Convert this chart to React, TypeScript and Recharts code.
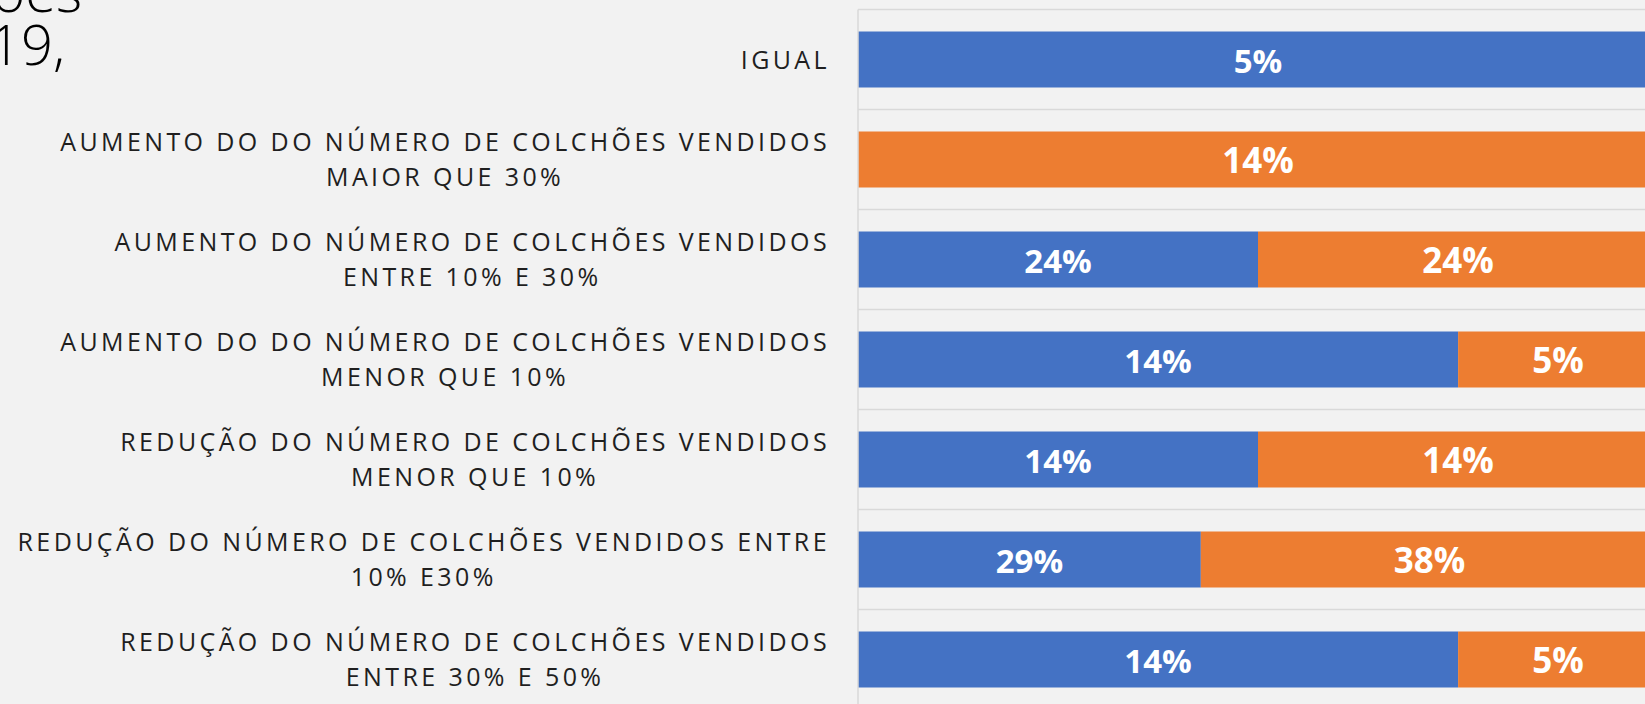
import React from "react";
import { BarChart, Bar, XAxis, YAxis, CartesianGrid, LabelList } from "recharts";

const categories = [
  "IGUAL",
  "AUMENTO DO DO NÚMERO DE COLCHÕES VENDIDOS\nMAIOR QUE 30%",
  "AUMENTO DO NÚMERO DE COLCHÕES VENDIDOS\nENTRE 10% E 30%",
  "AUMENTO DO DO NÚMERO DE COLCHÕES VENDIDOS\nMENOR QUE 10%",
  "REDUÇÃO DO NÚMERO DE COLCHÕES VENDIDOS\nMENOR QUE 10%",
  "REDUÇÃO DO NÚMERO DE COLCHÕES VENDIDOS ENTRE\n10% E30%",
  "REDUÇÃO DO NÚMERO DE COLCHÕES VENDIDOS\nENTRE 30% E 50%",
];
const seriesBlue = [4.76, 0, 23.81, 14.29, 14.29, 28.57, 14.29];
const seriesOrange = [0, 14.29, 23.81, 4.76, 14.29, 38.1, 4.76];
const titleLines = ["ões", "19,"];

const data = categories.map((name, i) => ({
  name,
  blue: seriesBlue[i],
  orange: seriesOrange[i],
}));

const LABEL_FONT = '"Open Sans", "Noto Sans", sans-serif';
const LABEL_SIZE = 25;
const LETTER_SPACING = 3.4;
const LINE_GAP = 35;

let ctx: CanvasRenderingContext2D | null = null;
function measure(text: string): number {
  if (!ctx) {
    const c = document.createElement("canvas");
    ctx = c.getContext("2d");
  }
  if (!ctx) return text.length * 16;
  ctx.font = `${LABEL_SIZE}px "Open Sans"`;
  return ctx.measureText(text).width + LETTER_SPACING * text.length;
}

const CategoryTick = (props: any) => {
  const { x, y, payload } = props;
  const lines: string[] = String(payload.value).split("\n");
  const widths = lines.map(measure);
  const maxW = Math.max(...widths);
  const right = x - 28;
  const center = right - maxW / 2;
  const n = lines.length;
  return (
    <g>
      {lines.map((ln, i) => (
        <text
          key={i}
          x={center - widths[i] / 2}
          y={y + (i - (n - 1) / 2) * LINE_GAP + 9}
          fontFamily={LABEL_FONT}
          fontSize={LABEL_SIZE}
          letterSpacing={LETTER_SPACING}
          fill="#1f1f1f"
          textAnchor="start"
        >
          {ln}
        </text>
      ))}
    </g>
  );
};

const makeLabel = (size: number) => (props: any) => {
  const { x, y, width, height, value } = props;
  if (!value || width <= 0) return null;
  return (
    <text
      x={x + width / 2}
      y={y + height / 2 + 1.5 + size * 0.357}
      textAnchor="middle"
      fill="#ffffff"
      fontFamily={LABEL_FONT}
      fontWeight={700}
      fontSize={size}
    >
      {Math.round(value) + "%"}
    </text>
  );
};

export default function App() {
  return (
    <div
      style={{
        position: "fixed",
        left: 0,
        top: 0,
        width: 1645,
        height: 704,
        overflow: "hidden",
        background: "#f2f2f2",
      }}
    >
      <div style={{ position: "absolute", left: 0, top: 0 }}>
        <BarChart
          width={1700}
          height={760}
          data={data}
          layout="vertical"
          stackOffset="expand"
          barCategoryGap="22%"
          margin={{ top: 9.5, right: 42, bottom: 50.5, left: 0 }}
        >
          <CartesianGrid
            vertical={false}
            stroke="#d9d9d9"
            strokeWidth={1.5}
            horizontalCoordinatesGenerator={({ offset }: any) =>
              Array.from({ length: categories.length + 1 }, (_, i) => offset.top + (i * offset.height) / categories.length)
            }
          />
          <XAxis type="number" domain={[0, 1]} hide />
          <YAxis
            type="category"
            dataKey="name"
            width={858}
            tickLine={false}
            tickSize={0}
            tickMargin={0}
            axisLine={{ stroke: "#d9d9d9", strokeWidth: 1.5 }}
            tick={<CategoryTick />}
            interval={0}
          />
          <Bar dataKey="blue" stackId="s" fill="#4472C4" isAnimationActive={false}>
            <LabelList dataKey="blue" content={makeLabel(33)} />
          </Bar>
          <Bar dataKey="orange" stackId="s" fill="#ED7D31" isAnimationActive={false}>
            <LabelList dataKey="orange" content={makeLabel(35)} />
          </Bar>
        </BarChart>
      </div>
      <svg
        width={1645}
        height={704}
        style={{ position: "absolute", left: 0, top: 0, pointerEvents: "none" }}
      >
        <text x={82} y={12} textAnchor="end" fontFamily={LABEL_FONT} fontWeight={300} fontSize={56} fill="#000000">
          {titleLines[0]}
        </text>
        <text x={65} y={65} textAnchor="end" fontFamily={LABEL_FONT} fontWeight={300} fontSize={56} fill="#000000">
          {titleLines[1]}
        </text>
      </svg>
    </div>
  );
}
